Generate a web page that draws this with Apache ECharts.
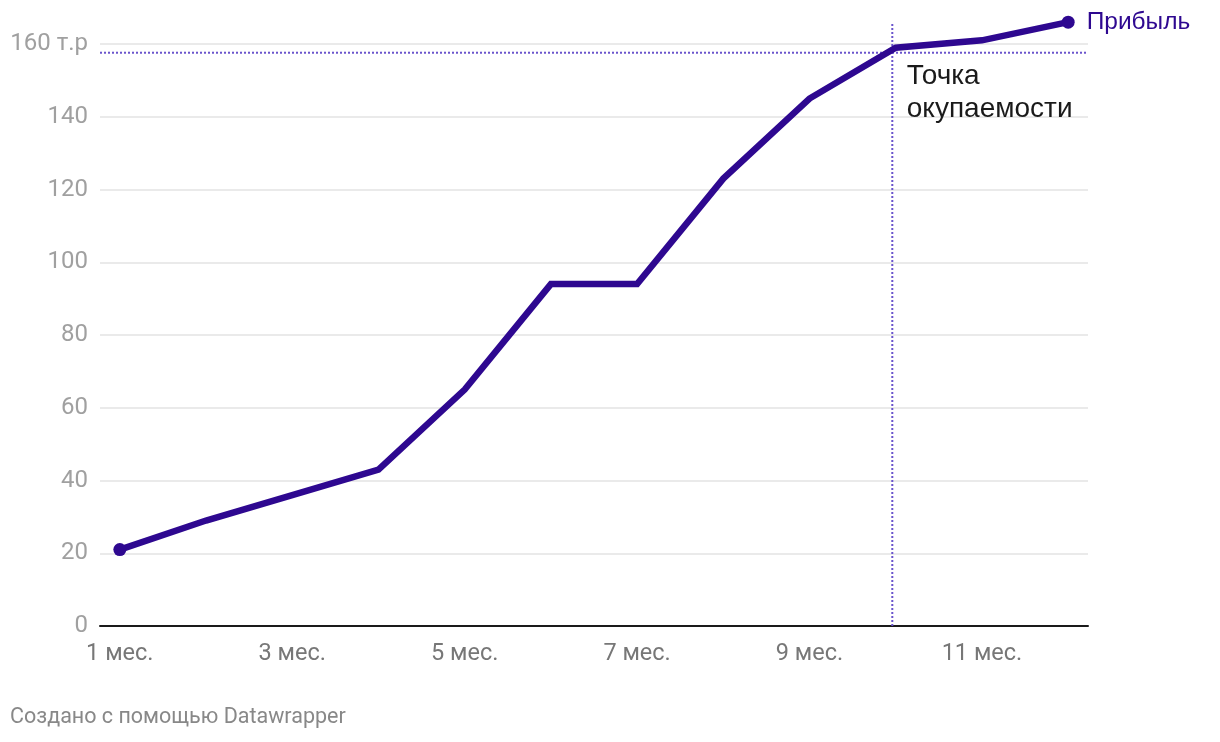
<!DOCTYPE html>
<html>
<head>
<meta charset="utf-8">
<script src="https://cdn.jsdelivr.net/npm/echarts@6/dist/echarts.min.js"></script>
<style>
html,body{margin:0;padding:0;background:#fff;}
#chart{width:1220px;height:742px;}
</style>
</head>
<body>
<div id="chart"></div>
<script>
const months = [1,2,3,4,5,6,7,8,9,10,11,12];
const profit = [21,29,36,43,65,94,94,123,145,159,161,166];
const xTickValues = [1,3,5,7,9,11];
const xTickSuffix = ' мес.';
const yTopLabel = '160 т.р';
const breakEvenMonth = 9.96;
const breakEvenValue = 157.6;
const breakEvenLineTop = 166;
const xMin = 0.77, xMax = 12.23;
const seriesName = 'Прибыль';
const breakEvenText = 'Точка\nокупаемости';
const footerText = 'Создано с помощью Datawrapper';

const chart = echarts.init(document.getElementById('chart'), null, {renderer:'canvas'});
const lineColor = '#2e0890';
const dotColor = '#6a54cc';
const data = months.map((m,i)=>[m, profit[i]]);
const lastIdx = data.length - 1;
const dotted = {color:dotColor, type:[2,2], width:2};

chart.setOption({
  animation:false,
  backgroundColor:'#fff',
  textStyle:{fontFamily:'Roboto'},
  grid:{left:100, right:132, top:44, bottom:116, containLabel:false},
  xAxis:{
    type:'value', min:xMin, max:xMax,
    axisLine:{show:true, onZero:false, lineStyle:{color:'#1a1a1a', width:2}},
    axisTick:{show:false},
    splitLine:{show:false},
    axisLabel:{
      customValues:xTickValues,
      formatter:v=>v+xTickSuffix,
      color:'#777', fontSize:23.5, fontFamily:'Roboto', margin:16
    }
  },
  yAxis:{
    type:'value', min:0, max:160, interval:20,
    axisLine:{show:false}, axisTick:{show:false},
    splitLine:{lineStyle:{color:'#e3e3e3', width:1.5}},
    axisLabel:{
      formatter:v=> v===160 ? yTopLabel : String(v),
      color:'#a0a0a0', fontSize:24, fontFamily:'Roboto', margin:12
    }
  },
  graphic:[{
    type:'text', left:10, top:707,
    style:{text:footerText, fill:'#888', font:'21.5px Roboto'}
  }],
  series:[{
    name:'breakEvenH', type:'line', clip:false, z:2, silent:true,
    data:[[xMin, breakEvenValue],[xMax, breakEvenValue]],
    symbol:'none', lineStyle:dotted
  },{
    name:'breakEvenV', type:'line', clip:false, z:2, silent:true,
    data:[[breakEvenMonth, 0],[breakEvenMonth, breakEvenLineTop]],
    symbol:'none', lineStyle:dotted
  },{
    name:seriesName,
    type:'line',
    data:data,
    clip:false,
    z:5,
    lineStyle:{color:lineColor, width:6.5, join:'miter'},
    itemStyle:{color:lineColor},
    symbol:'circle',
    showSymbol:true, showAllSymbol:true,
    symbolSize:(v,p)=> (p.dataIndex===0 || p.dataIndex===lastIdx) ? 13 : 0,
    label:{
      show:true,
      formatter:p=> p.dataIndex===lastIdx ? seriesName : '',
      position:'right', distance:12,
      color:lineColor, fontSize:24.5, fontFamily:'Liberation Sans'
    },
    markPoint:{
      silent:true,
      symbol:'circle', symbolSize:1,
      itemStyle:{color:'rgba(0,0,0,0)'},
      data:[{
        coord:[breakEvenMonth, breakEvenValue],
        label:{
          show:true, formatter:breakEvenText,
          position:'insideTopLeft', offset:[10,3],
          align:'left', verticalAlign:'top',
          color:'#1a1a1a', fontSize:28, lineHeight:33, fontFamily:'Liberation Sans'
        }
      }]
    }
  }]
});
</script>
</body>
</html>
